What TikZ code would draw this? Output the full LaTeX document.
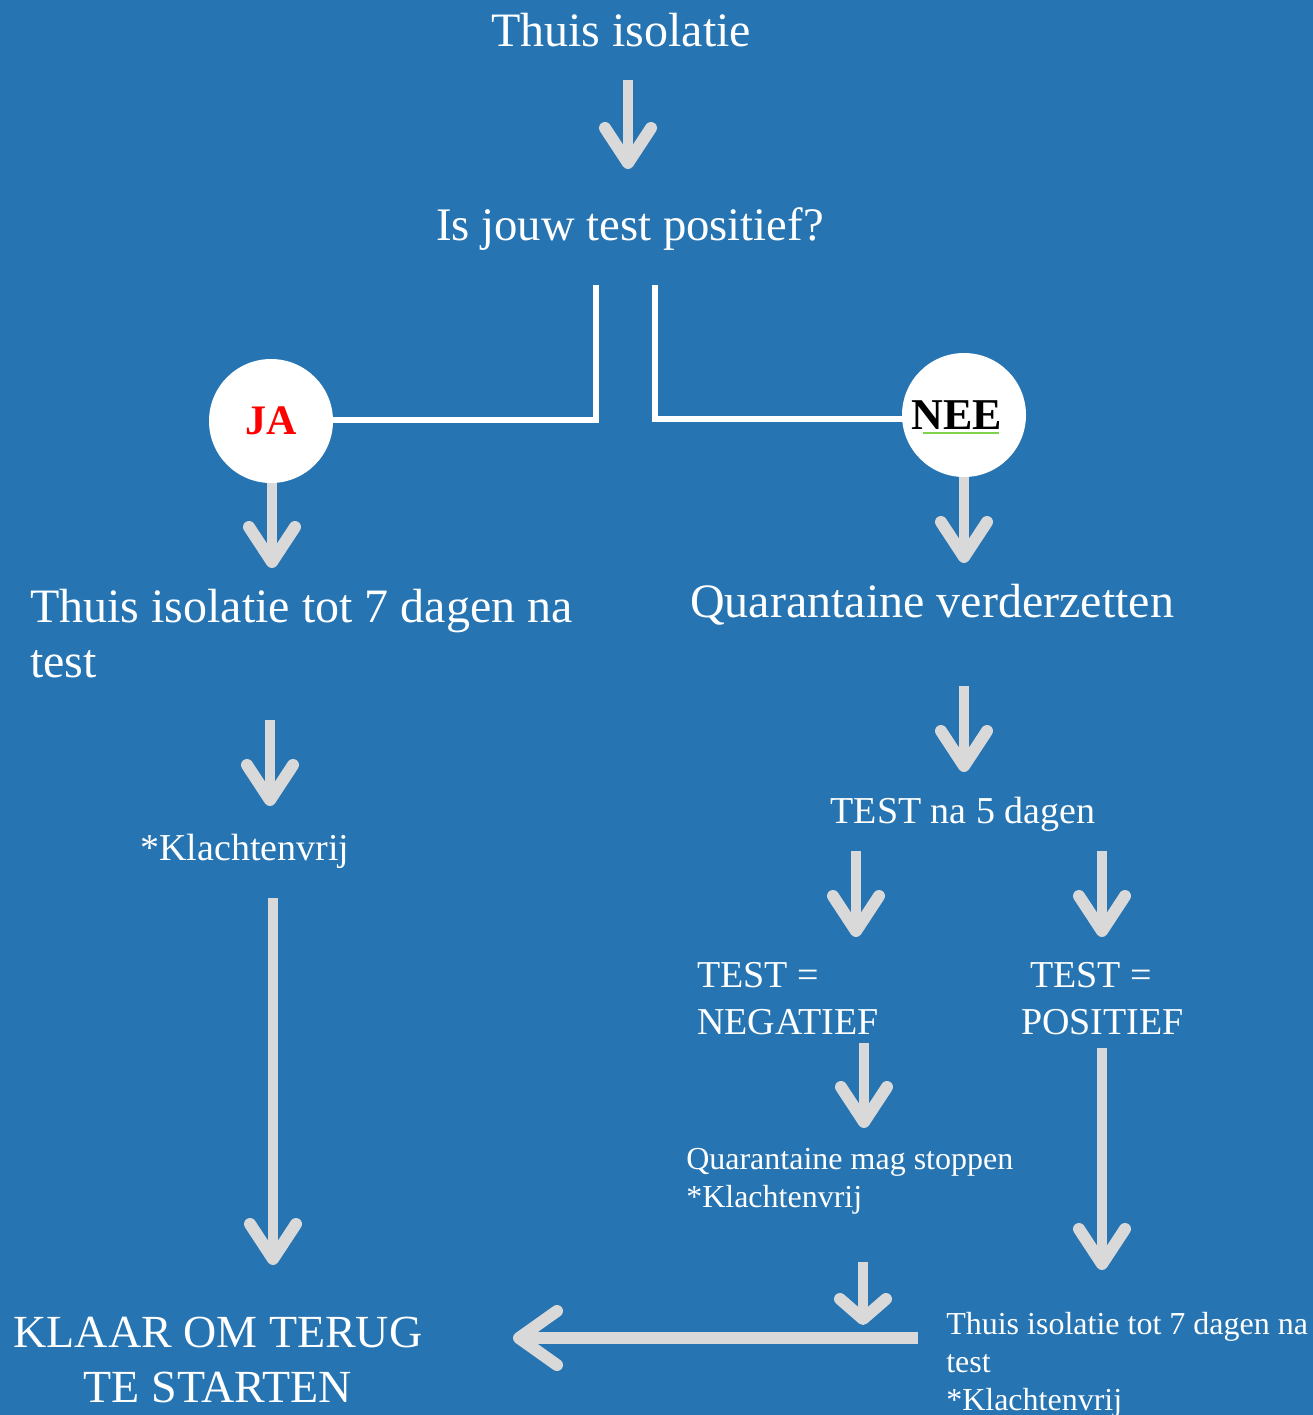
\documentclass[tikz,border=0pt]{standalone}
\usepackage{fontspec}
\setmainfont{Liberation Serif}
\usetikzlibrary{calc}
\definecolor{bgblue}{RGB}{38,116,178}
\definecolor{agrey}{RGB}{217,217,217}
\definecolor{ulgreen}{RGB}{126,211,78}
\newcommand\fsz[2]{\fontsize{#1}{#2}\selectfont}
\newcommand\vArr[6]{%
  \coordinate (#1s) at (#2,#3);
  \coordinate (#1t) at (#2,#4);
  \draw[shaft] (#1s) -- (#1t);
  \draw[head] ($(#1t)+(-#5,-#6)$) -- (#1t) -- ($(#1t)+(#5,-#6)$);
}
\begin{document}
\begin{tikzpicture}[x=0.75pt,y=-0.75pt,
  shaft/.style={draw=agrey,line width=7.5pt,line cap=butt},
  head/.style={draw=agrey,line width=9pt,line cap=round,line join=round},
  wline/.style={draw=white,line width=4.5pt},
  txt/.style={text=white,inner sep=0pt},
  bigtxt/.style={txt,font=\fsz{36pt}{41.25pt}},
  midtxt/.style={txt,font=\fsz{28.5pt}{35.25pt}},
  smalltxt/.style={txt,font=\fsz{24pt}{28.5pt}},
  answer/.style={circle,fill=white,inner sep=0pt,minimum size=93pt}]
\fill[bgblue] (0,0) rectangle (1313,1415);
\useasboundingbox (0,0) rectangle (1313,1415);
\clip (0,0) rectangle (1313,1415);

% titles
\node[bigtxt,anchor=base] (title) at (621,46) {Thuis isolatie};
\node[txt,font=\fsz{35pt}{40pt},anchor=base] (q) at (630,240) {Is jouw test positief?};

% white branch lines
\coordinate (qL) at (596,285);
\coordinate (qR) at (655,285);
\coordinate (jac) at (271,420);
\coordinate (neel) at (964,419);
\draw[wline] (qL) |- (jac);
\draw[wline] (qR) |- (neel);

% answer circles
\node[answer,text=red,font=\bfseries\fsz{31.5pt}{36pt}] (ja) at (271,421) {JA};
\node[answer,text=black,font=\bfseries\fsz{33pt}{38pt}] (nee) at (964,415) {NEE\kern11.25pt};
\draw[ulgreen,line width=1.4pt] (923,433) -- (999,433);

% grey arrows
\vArr{aa}{628}{80}{163}{23}{35}
\vArr{ab}{272}{483}{562}{23}{35}
\vArr{ac}{964}{477}{557}{23}{35}
\vArr{ad}{270}{720}{800}{23}{35}
\vArr{ae}{964}{686}{766}{23}{35}
\vArr{af}{856}{851}{931}{23}{35}
\vArr{ag}{1102}{851}{931}{23}{35}
\vArr{ah}{864}{1043}{1122}{23}{35}
\vArr{ai}{273}{898}{1259}{23}{35}
\vArr{aj}{1102}{1048}{1264}{23}{35}
\vArr{ak}{863}{1262}{1319}{23}{20}

% horizontal arrow
\coordinate (hs) at (918,1338);
\coordinate (ht) at (519,1338);
\draw[shaft,line width=9pt] (hs) -- (ht);
\draw[head] ($(ht)+(38,-27)$) -- (ht) -- ($(ht)+(38,27)$);

% texts
\node[bigtxt,anchor=base west] (jatxt) at (30,622) {\vtop{\hbox{Thuis isolatie tot 7 dagen na}\hbox{test}}};
\node[bigtxt,anchor=base west] (quar) at (690,617) {Quarantaine verderzetten};
\node[midtxt,anchor=base west] (kl1) at (140,860) {*Klachtenvrij};
\node[midtxt,anchor=base] (t5) at (963,823) {TEST na 5 dagen};
\node[midtxt,anchor=base west] (neg) at (697,987) {\vtop{\hbox{TEST =}\hbox{NEGATIEF}}};
\node[midtxt,anchor=base west] (pos) at (1021,987) {\vtop{\hbox{\hspace*{6.75pt}TEST =}\hbox{POSITIEF}}};
\node[smalltxt,anchor=base west] (stop) at (686,1169) {\vtop{\hbox{Quarantaine mag stoppen}\hbox{*Klachtenvrij}}};
\node[smalltxt,anchor=base west] (iso2) at (946,1334) {\vtop{\hbox{Thuis isolatie tot 7 dagen na}\hbox{test}\hbox{*Klachtenvrij}}};
\node[txt,anchor=base,font=\fsz{34.5pt}{41.25pt}] (klaar) at (218,1347) {\vtop{\halign{\hfil#\hfil\cr KLAAR OM TERUG\cr TE STARTEN\cr}}};
\end{tikzpicture}
\end{document}
